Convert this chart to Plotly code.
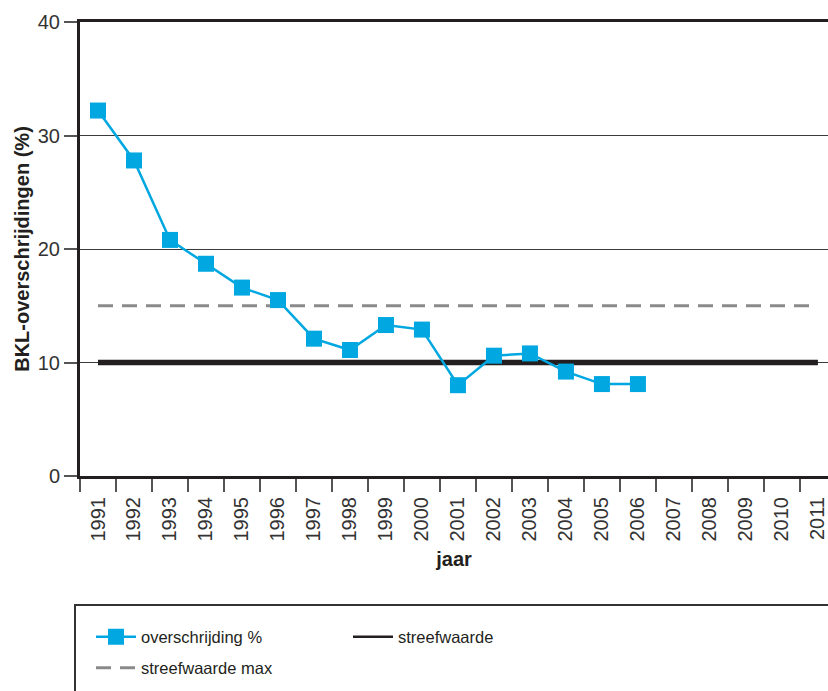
import plotly.graph_objects as go

years = [str(y) for y in range(1991, 2012)]
meas_years = [str(y) for y in range(1991, 2007)]
overschrijding = [32.2, 27.8, 20.8, 18.7, 16.6, 15.5, 12.1, 11.1, 13.3, 12.9,
                  8.0, 10.6, 10.8, 9.2, 8.1, 8.1]
streefwaarde = [10] * len(years)
streefwaarde_max = [15] * len(years)

W, H = 828, 691
L, R, T, B = 80, 0, 22, 215
pw, ph = W - L - R, H - T - B

def px_x(p):
    return (p - L) / pw

def px_y(p):
    return (H - B - p) / ph

dark = "#231F20"
blue = "#00A7E1"
gray = "#8A8A8A"

fig = go.Figure()
fig.add_trace(go.Scatter(
    x=years, y=streefwaarde_max, mode="lines", name="streefwaarde max",
    line=dict(color=gray, width=3, dash="15px,9px"), legend="legend3"))
fig.add_trace(go.Scatter(
    x=years, y=streefwaarde, mode="lines", name="streefwaarde",
    line=dict(color=dark, width=5.5), showlegend=False))
# legend entry for streefwaarde (thinner symbol as in the reference)
fig.add_trace(go.Scatter(
    x=[None], y=[None], mode="lines", name="streefwaarde",
    line=dict(color=dark, width=2.5), legend="legend2"))
fig.add_trace(go.Scatter(
    x=meas_years, y=overschrijding, mode="lines+markers", name="overschrijding %",
    line=dict(color=blue, width=2.5),
    marker=dict(symbol="square", size=16, color=blue), legend="legend"))

legfont = dict(family="Liberation Sans, Arial, sans-serif", size=16.5, color=dark)
common_leg = dict(font=legfont, bgcolor="rgba(0,0,0,0)", borderwidth=0,
                  xanchor="left", yanchor="middle", itemwidth=40)

fig.update_layout(
    width=W, height=H,
    margin=dict(l=L, r=R, t=T, b=B, autoexpand=False),
    paper_bgcolor="white", plot_bgcolor="white",
    font=dict(family="Liberation Sans, Arial, sans-serif", color=dark),
    showlegend=True,
    legend=dict(x=px_x(91), y=px_y(637), **common_leg),
    legend2=dict(x=px_x(348), y=px_y(637), **common_leg),
    legend3=dict(x=px_x(91), y=px_y(668), **common_leg),
    xaxis=dict(
        type="category", categoryorder="array", categoryarray=years,
        range=[-0.5, 20.28],
        tickson="boundaries", ticks="outside", ticklen=13, tickwidth=1.5,
        tickcolor="#555", tickangle=-90, ticklabelstandoff=10,
        tickfont=dict(size=20, color="#333"),
        showline=True, linewidth=3, linecolor=dark, mirror=True,
        showgrid=False, automargin=False,
        title=dict(text="<b>jaar</b>", font=dict(size=20, color=dark), standoff=12),
    ),
    yaxis=dict(
        range=[0, 40], tickvals=[0, 10, 20, 30, 40],
        ticks="outside", ticklen=13, tickwidth=1.5, tickcolor="#555",
        tickfont=dict(size=20, color="#333"),
        showline=True, linewidth=3, linecolor=dark,
        showgrid=True, gridcolor="#3a3a3a", gridwidth=1.2,
        zeroline=False, automargin=False,
        title=dict(text="<b>BKL-overschrijdingen (%)</b>",
                   font=dict(size=20, color=dark), standoff=3),
    ),
    shapes=[dict(type="rect", xref="paper", yref="paper",
                 x0=px_x(75), x1=px_x(900), y0=px_y(605), y1=px_y(760),
                 line=dict(color="#333", width=2), fillcolor="rgba(0,0,0,0)")],
)

fig.write_html("out.html", config={"displayModeBar": False},
               post_script="document.body.style.margin='0';document.body.style.overflow='hidden';")
